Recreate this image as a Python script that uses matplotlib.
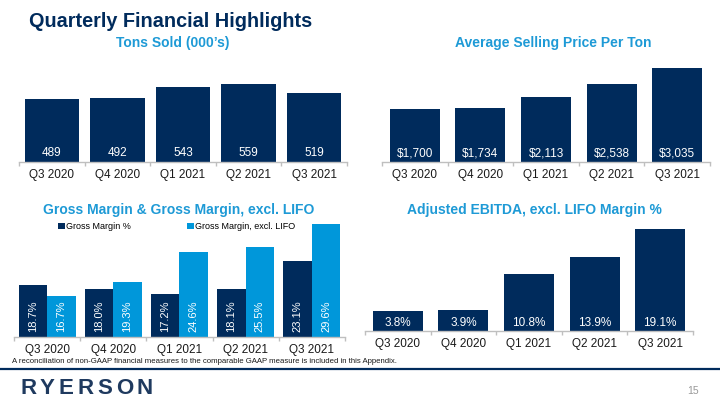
#Quarterly financial highlights - four bar panels
import matplotlib
matplotlib.use("Agg")
import matplotlib.pyplot as plt
from matplotlib.lines import Line2D
import numpy

plt.rcParams['font.family'] = ['Liberation Sans', 'DejaVu Sans']

#data
quarters = ["Q3 2020", "Q4 2020", "Q1 2021", "Q2 2021", "Q3 2021"]
tons_sold = [489, 492, 543, 559, 519]
avg_price = [1700, 1734, 2113, 2538, 3035]
gross_margin = [18.7, 18.0, 17.2, 18.1, 23.1]
gross_margin_excl_lifo = [16.7, 19.3, 24.6, 25.5, 29.6]
ebitda_margin = [3.8, 3.9, 10.8, 13.9, 19.1]

#colors
navy = "#002B5C"
light_blue = "#0097DA"
sub_blue = "#1E9AD6"
axis_grey = "#BFBFBF"

W, H = 720, 405
fig = plt.figure(figsize=(7.2, 4.05), dpi=100)

def px_axes(left, top, width, bottom):
    #axes from pixel box (top-left origin)
    return fig.add_axes([left / W, 1 - bottom / H, width / W, (bottom - top) / H])

def style_axis(ax):
    for side in ["top", "right", "left"]:
        ax.spines[side].set_visible(False)
    ax.spines["bottom"].set_color(axis_grey)
    ax.spines["bottom"].set_linewidth(1.0)
    ax.set_yticks([])
    ax.set_xlim(-0.5, len(quarters) - 0.5)
    ax.set_xticks(range(len(quarters)))
    ax.set_xticklabels(quarters, fontsize=8.5, color="#1a1a1a")
    ax.tick_params(axis="x", which="major", length=0, pad=5)
    ax.set_xticks(numpy.arange(-0.5, len(quarters)), minor=True)
    ax.tick_params(axis="x", which="minor", length=3, color=axis_grey, width=1.0)
    ax.patch.set_alpha(0)

def label_bars(ax, bars, texts, ybase, offset=6.3, size=8.5):
    for b, t in zip(bars, texts):
        ax.annotate(t, xy=(b.get_x() + b.get_width() / 2, ybase),
                    xytext=(0, offset), textcoords="offset points",
                    ha="center", va="center", color="white", fontsize=size)

x = numpy.arange(len(quarters))

#Tons sold
ax1 = px_axes(19, 60, 328, 162)
bars = ax1.bar(x, tons_sold, width=0.83, color=navy, bottom=0)
ax1.set_ylim(200, 669)
style_axis(ax1)
label_bars(ax1, bars, [str(v) for v in tons_sold], 200)

#Average selling price
ax2 = px_axes(382, 60, 328, 162)
bars = ax2.bar(x, avg_price, width=0.76, color=navy)
ax2.set_ylim(0, 3300)
style_axis(ax2)
label_bars(ax2, bars, [f"${v:,}" for v in avg_price], 0)

#Gross margin pair
ax3 = px_axes(14, 221, 331, 336.7)
bw = 0.43
b_gm = ax3.bar(x - bw / 2, gross_margin, width=bw, color=navy, label="Gross Margin %")
b_gl = ax3.bar(x + bw / 2, gross_margin_excl_lifo, width=bw, color=light_blue,
               label="Gross Margin, excl. LIFO")
ax3.set_ylim(9.5, 30.2)
style_axis(ax3)
for bset, vals in [(b_gm, gross_margin), (b_gl, gross_margin_excl_lifo)]:
    for b, v in zip(bset, vals):
        ax3.annotate(f"{v:.1f}%", xy=(b.get_x() + b.get_width() / 2, 9.5),
                     xytext=(0, 3.4), textcoords="offset points", rotation=90,
                     ha="center", va="bottom", color="white", fontsize=8)
leg = ax3.legend(ncol=2, loc="center left", bbox_to_anchor=(58 / W, 1 - 226.5 / H),
                 bbox_transform=fig.transFigure, frameon=False, fontsize=6.5,
                 handlelength=0.75, handleheight=0.75, handletextpad=0.15,
                 columnspacing=6.2, borderpad=0, borderaxespad=0)

#Adjusted EBITDA margin
ax4 = px_axes(365, 225, 328, 331)
bars = ax4.bar(x, ebitda_margin, width=0.76, color=navy)
ax4.set_ylim(0, 19.93)
style_axis(ax4)
label_bars(ax4, bars, [f"{v:.1f}%" for v in ebitda_margin], 0, offset=5.5)

#titles
fig.text(29 / W, 1 - 21.5 / H, "Quarterly Financial Highlights", fontsize=14.3,
         fontweight="bold", color=navy, va="center", ha="left")
fig.text(173 / W, 1 - 43 / H, "Tons Sold (000\u2019s)", fontsize=10,
         fontweight="bold", color=sub_blue, ha="center", va="center")
fig.text(553 / W, 1 - 43 / H, "Average Selling Price Per Ton", fontsize=10,
         fontweight="bold", color=sub_blue, ha="center", va="center")
fig.text(179 / W, 1 - 210 / H, "Gross Margin & Gross Margin, excl. LIFO", fontsize=10,
         fontweight="bold", color=sub_blue, ha="center", va="center")
fig.text(534 / W, 1 - 210 / H, "Adjusted EBITDA, excl. LIFO Margin %", fontsize=10,
         fontweight="bold", color=sub_blue, ha="center", va="center")

#footer
fig.text(12 / W, 1 - 361.7 / H,
         "A reconciliation of non-GAAP financial measures to the comparable GAAP measure is included in this Appendix.",
         fontsize=5.6, color="#1a1a1a", ha="left", va="center")
fig.add_artist(Line2D([0, 1], [1 - 368.5 / H] * 2, color=navy, lw=1.6,
                      transform=fig.transFigure))
fig.text(693 / W, 1 - 391 / H, "15", fontsize=7.5, color="#999999", ha="center", va="center")

#logo with wide letter spacing
fig.canvas.draw()
renderer = fig.canvas.get_renderer()
xpos = 20
for ch in "RYERSON":
    t = fig.text(xpos / W, 1 - 388 / H, ch, fontsize=16, color="#1F3A5F",
                 fontweight="bold", ha="left", va="center")
    xpos += t.get_window_extent(renderer).width + 3.8

fig.savefig("out.png", dpi=100)
